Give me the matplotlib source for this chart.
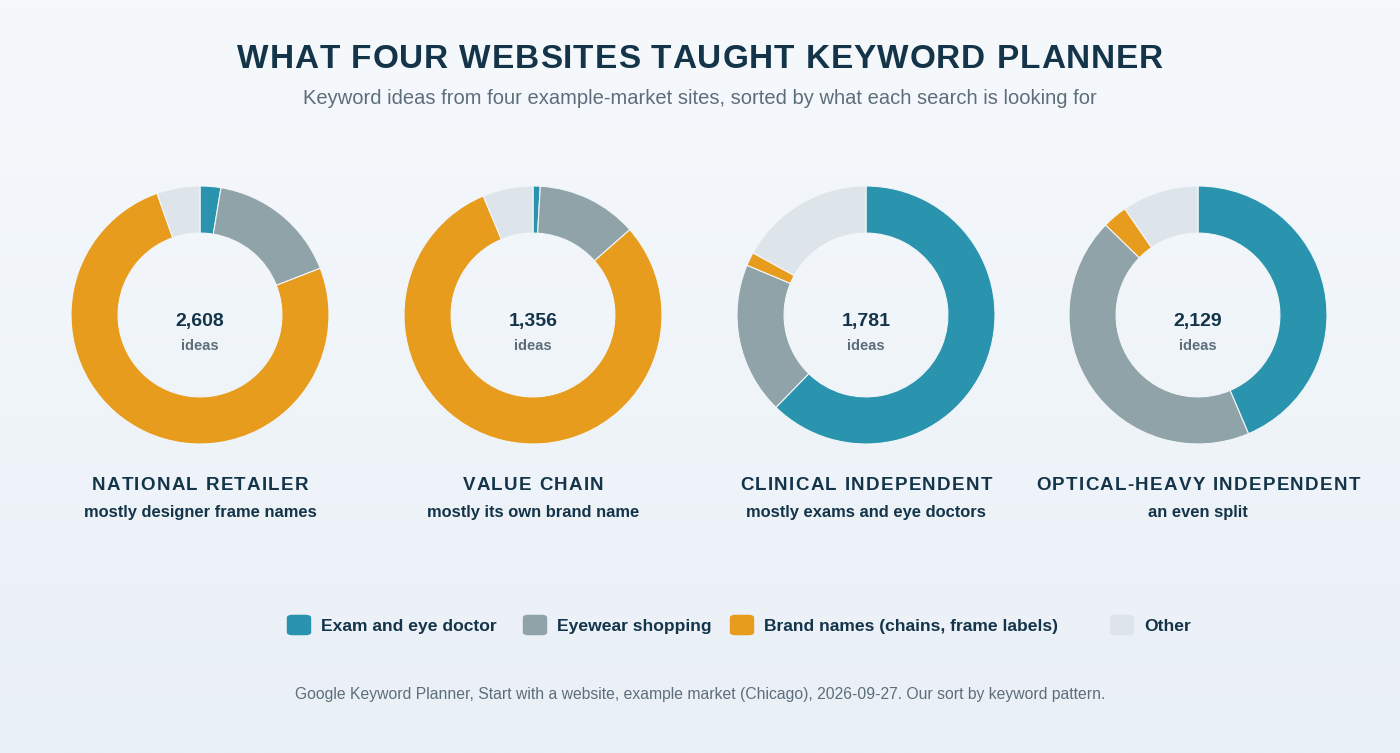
import numpy as np
import matplotlib
matplotlib.use("Agg")
import matplotlib.pyplot as plt
from matplotlib.patches import FancyBboxPatch
from matplotlib.font_manager import findfont, FontProperties
from matplotlib.ft2font import FT2Font

plt.rcParams["font.family"] = ["Liberation Sans", "DejaVu Sans"]

# Daten
categories = ["Exam and eye doctor", "Eyewear shopping",
              "Brand names (chains, frame labels)", "Other"]
colors = ["#2a93ad", "#8fa3a9", "#e89c1e", "#dde5eb"]

sites = ["NATIONAL RETAILER", "VALUE CHAIN", "CLINICAL INDEPENDENT",
         "OPTICAL-HEAVY INDEPENDENT"]
notes = ["mostly designer frame names", "mostly its own brand name",
         "mostly exams and eye doctors", "an even split"]
totals = [2608, 1356, 1781, 2129]

# Anteile in Prozent, Reihenfolge wie categories
national = [2.6, 16.5, 75.5, 5.4]
value = [0.9, 12.6, 80.2, 6.3]
clinical = [62.3, 19.0, 1.7, 17.0]
optical = [43.6, 43.7, 3.1, 9.6]
shares = [national, value, clinical, optical]

W, H = 1400, 753
DARK = "#14344a"
GREY = "#5d6e7a"

fig = plt.figure(figsize=(W / 100, H / 100), dpi=100)

# Hintergrund mit leichtem Verlauf
bg = fig.add_axes([0, 0, 1, 1], zorder=-10)
grad = np.linspace(0, 1, 256).reshape(-1, 1)
top = np.array([0xf6, 0xf9, 0xfc]) / 255
bot = np.array([0xe9, 0xf0, 0xf6]) / 255
img = top + (bot - top) * grad[..., None]
bg.imshow(img, aspect="auto", extent=[0, 1, 0, 1])
bg.set_axis_off()


def fx(px):
    return px / W


def fy(py):
    return 1 - py / H


bold_font = FT2Font(findfont(FontProperties(family="Liberation Sans", weight="bold")))


def spaced_text(cx, y, s, size, spacing, **kw):
    # zentrierter Text mit Zeichenabstand (px), ohne Kerning
    bold_font.set_size(size, 100)
    adv = [bold_font.load_char(ord(c)).linearHoriAdvance / 65536 for c in s]
    total = sum(adv) + spacing * (len(s) - 1)
    x = cx - total / 2
    for ch, a in zip(s, adv):
        if ch != " ":
            fig.text(fx(x + a / 2), fy(y), ch, ha="center", va="baseline",
                     fontsize=size, fontweight="bold", **kw)
        x += a + spacing


spaced_text(700, 68, "WHAT FOUR WEBSITES TAUGHT KEYWORD PLANNER", 24, 0.9, color=DARK)
fig.text(0.5, fy(99), "Keyword ideas from four example-market sites, sorted by what each search is looking for",
         ha="center", va="center", fontsize=14.5, color=GREY)

centers = [200, 533, 866, 1198]
cy = 315
R = 129
for cx, vals, total, site, note in zip(centers, shares, totals, sites, notes):
    ax = fig.add_axes([fx(cx - R), fy(cy + R), 2 * R / W, 2 * R / H])
    ax.pie(vals, colors=colors, startangle=90, counterclock=False, radius=1,
           wedgeprops=dict(width=0.365, edgecolor="#f1f6f9", linewidth=0.8))
    ax.set_xlim(-1, 1)
    ax.set_ylim(-1, 1)
    ax.set_aspect("equal")
    ax.set_axis_off()

    fig.text(fx(cx), fy(321), f"{total:,}", ha="center", va="center",
             fontsize=14, fontweight="bold", color=DARK)
    fig.text(fx(cx), fy(346), "ideas", ha="center", va="center",
             fontsize=10.5, fontweight="bold", color=GREY)
    spaced_text(cx, 490, site, 13.5, 1.3, color=DARK)
    fig.text(fx(cx), fy(513), note, ha="center", va="center",
             fontsize=11.9, fontweight="bold", color=DARK)

# Legende
leg_x = [288, 524, 731, 1111]
for x, lab, col in zip(leg_x, categories, colors):
    box = FancyBboxPatch((fx(x + 3), fy(633)), fx(16), 16 / H,
                         boxstyle="round,pad=0.003,rounding_size=0.004",
                         transform=fig.transFigure, facecolor=col,
                         edgecolor="none")
    fig.patches.append(box)
    fig.text(fx(x + 33), fy(631), lab, ha="left", va="baseline",
             fontsize=12.6, fontweight="bold", color=DARK)

fig.text(0.5, fy(695),
         "Google Keyword Planner, Start with a website, example market (Chicago), 2026-09-27. Our sort by keyword pattern.",
         ha="center", va="center", fontsize=11.3, color=GREY)

fig.savefig("out.png", dpi=100)
